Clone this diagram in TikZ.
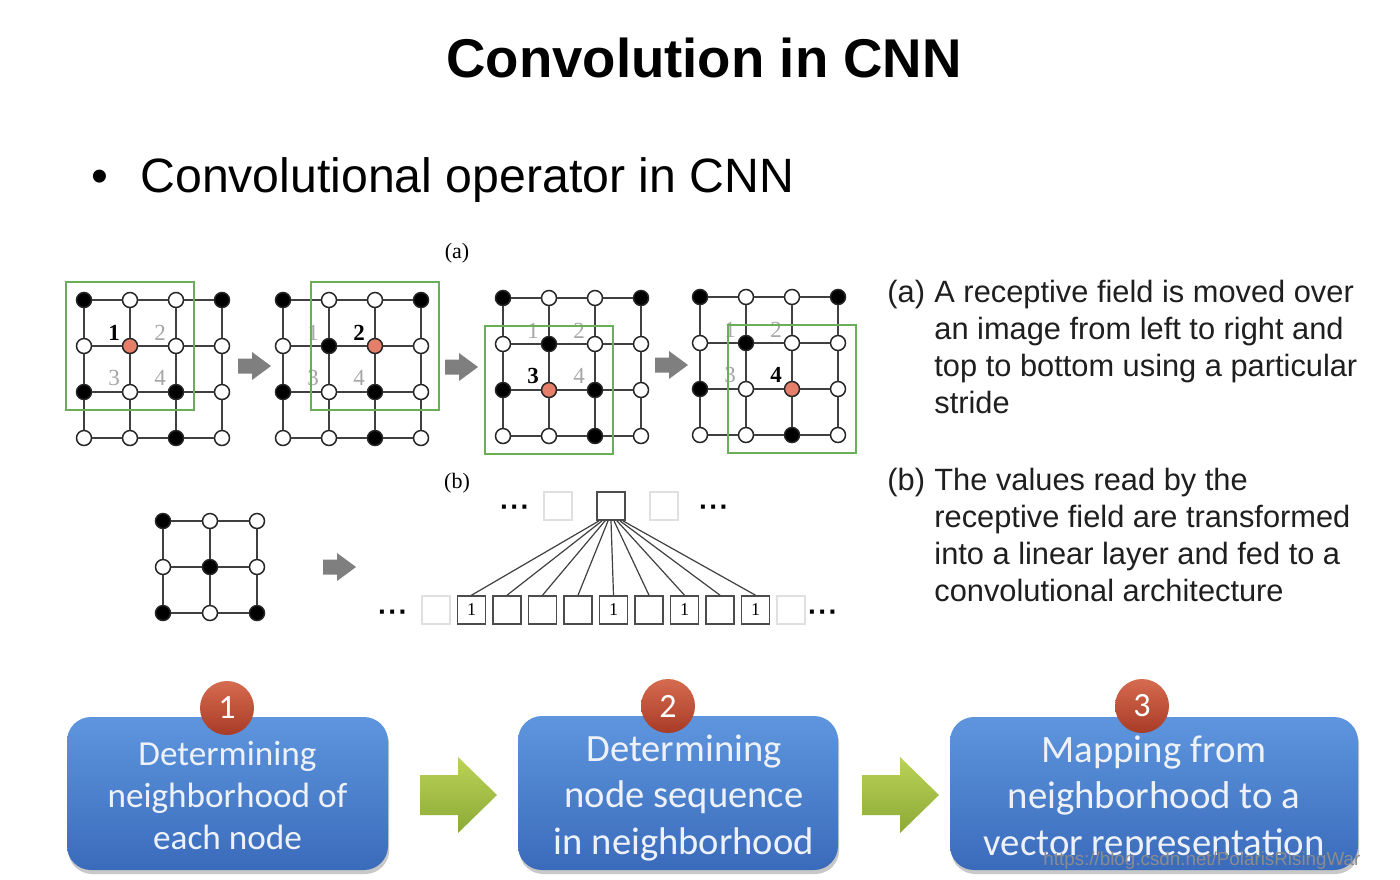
\documentclass[tikz,border=0pt]{standalone}
\usepackage{fontspec}
\setmainfont{Liberation Sans}
\newfontfamily\serifF{Liberation Serif}
\newfontfamily\calF{Carlito}
\usetikzlibrary{calc,shadows}
\definecolor{gridgreen}{HTML}{6AAE5A}
\definecolor{salmon}{HTML}{E57F6A}
\definecolor{boxtop}{HTML}{5E96DE}
\definecolor{boxbot}{HTML}{3A6BBB}
\definecolor{redtop}{HTML}{D56B4F}
\definecolor{redbot}{HTML}{A83B27}
\definecolor{greentop}{HTML}{BCD257}
\definecolor{greenbot}{HTML}{8BAA36}
\definecolor{arrowgray}{HTML}{7F7F7F}
\definecolor{boxtext}{HTML}{EEF2F8}
\tikzset{
  gn/.style={circle, draw=black!85, line width=0.75pt, minimum size=7.5pt, inner sep=0pt},
  wnode/.style={gn, fill=white},
  bnode/.style={gn, fill=black},
  rnode/.style={gn, fill=salmon},
  gl/.style={draw=black!75, line width=0.8pt},
  lblon/.style={font=\serifF\bfseries\fontsize{11.5}{11.5}\selectfont, text=black, inner sep=0pt},
  lbloff/.style={font=\serifF\fontsize{11.5}{11.5}\selectfont, text=black!35, inner sep=0pt},
  gbox/.style={draw=gridgreen, line width=0.8pt, minimum size=64pt, inner sep=0pt},
  sq/.style={draw=black!70, line width=0.8pt, minimum size=14pt, inner sep=0pt, font=\serifF\fontsize{9}{9}\selectfont},
  fsq/.style={sq, draw=black!12},
  dotsn/.style={font=\bfseries\fontsize{14}{14}\selectfont, inner sep=0pt},
  para/.style={anchor=base west, align=left, inner sep=0pt, text=black!88, font=\fontsize{15.4}{18.5}\selectfont},
  sublbl/.style={font=\serifF\fontsize{11}{11}\selectfont, inner sep=0pt},
  bluebox/.style={rounded corners=12pt, top color=boxtop, bottom color=boxbot, inner sep=0pt,
    drop shadow={shadow xshift=0.6pt, shadow yshift=-2pt, opacity=0.3, fill=black!70}},
  boxtxt/.style={text=boxtext, align=center, inner sep=0pt},
  numc/.style={circle, minimum size=27pt, inner sep=0pt, top color=redtop, bottom color=redbot, text=white,
    font=\calF\fontsize{17}{17}\selectfont},
  garrow/.style={fill=arrowgray},
}
\newcommand\convpanel[6]{%
  \begin{scope}[shift={(#2,#3)}]
    \foreach \f [count=\i from 0] in {#4} {%
      \pgfmathtruncatemacro\cc{mod(\i,4)}%
      \pgfmathtruncatemacro\rr{div(\i,4)}%
      \node[\f] (#1-\cc-\rr) at (\cc*46,\rr*46) {};
    }
    \foreach \r in {0,...,3} \foreach \c/\cn in {0/1,1/2,2/3} \draw[gl] (#1-\c-\r) -- (#1-\cn-\r);
    \foreach \c in {0,...,3} \foreach \r/\rn in {0/1,1/2,2/3} \draw[gl] (#1-\c-\r) -- (#1-\c-\rn);
    \foreach \k/\lx/\ly in {1/30/33,2/76/33,3/30/78,4/76/78} {%
      \ifnum\k=#5\relax \node[lblon] (#1-n\k) at (\lx,\ly) {\k};%
      \else \node[lbloff] (#1-n\k) at (\lx,\ly) {\k};\fi
    }
  \end{scope}
  \node[gbox] (#1-box) at (#1-#6) {};
}
\newcommand\grayarrow[2]{%
  \fill[garrow] (#1-16,#2-7.5) -- (#1-2,#2-7.5) -- (#1-2,#2-14) -- (#1+17,#2) -- (#1-2,#2+14) -- (#1-2,#2+7.5) -- (#1-16,#2+7.5) -- cycle;
}
\newcommand\greenarrow[2]{%
  \shade[top color=greentop, bottom color=greenbot] (#1,#2-20) -- (#1+38,#2-20) -- (#1+38,#2-38) -- (#1+77,#2) -- (#1+38,#2+38) -- (#1+38,#2+20) -- (#1,#2+20) -- cycle;
}
\newcommand\threedots{\textperiodcentered\kern0.5pt\textperiodcentered\kern0.5pt\textperiodcentered}
\begin{document}
\begin{tikzpicture}[x=0.5pt, y=-0.5pt]
\useasboundingbox[fill=white] (0,0) rectangle (1400,879);

% title and bullet
\node[anchor=base, inner sep=0pt, font=\bfseries\fontsize{27.3}{27.3}\selectfont] (title) at (704,77) {Convolution in CNN};
\node[anchor=base, inner sep=0pt, font=\fontsize{24}{24}\selectfont] (bullet) at (100,192) {\textbullet};
\node[anchor=base west, inner sep=0pt, font=\fontsize{24.1}{24.1}\selectfont] (sub) at (140,192) {Convolutional operator in CNN};

% (a) panels
\node[sublbl] (la) at (457,253) {(a)};
\convpanel{p1}{84}{300}{bnode,wnode,wnode,bnode, wnode,rnode,wnode,wnode, bnode,wnode,bnode,wnode, wnode,wnode,bnode,wnode}{1}{1-1}
\convpanel{p2}{283}{300}{bnode,wnode,wnode,bnode, wnode,bnode,rnode,wnode, bnode,wnode,bnode,wnode, wnode,wnode,bnode,wnode}{2}{2-1}
\convpanel{p3}{503}{298}{bnode,wnode,wnode,bnode, wnode,bnode,wnode,wnode, bnode,rnode,bnode,wnode, wnode,wnode,bnode,wnode}{3}{1-2}
\convpanel{p4}{700}{297}{bnode,wnode,wnode,bnode, wnode,bnode,wnode,wnode, bnode,wnode,rnode,wnode, wnode,wnode,bnode,wnode}{4}{2-2}
\grayarrow{254}{366}
\grayarrow{461}{367}
\grayarrow{671}{365}

% (b) small grid
\node[sublbl] (lb) at (457,483) {(b)};
\begin{scope}[shift={(163,521)}]
  \foreach \f [count=\i from 0] in {bnode,wnode,wnode, wnode,bnode,wnode, bnode,wnode,bnode} {%
    \pgfmathtruncatemacro\cc{mod(\i,3)}%
    \pgfmathtruncatemacro\rr{div(\i,3)}%
    \node[\f] (g-\cc-\rr) at (\cc*47,\rr*46) {};
  }
  \foreach \r in {0,1,2} \foreach \c/\cn in {0/1,1/2} \draw[gl] (g-\c-\r) -- (g-\cn-\r);
  \foreach \c in {0,1,2} \foreach \r/\rn in {0/1,1/2} \draw[gl] (g-\c-\r) -- (g-\c-\rn);
\end{scope}
\grayarrow{339}{567}

% (b) linear layer
\node[dotsn] (td0) at (515,511) {\threedots};
\node[fsq] (t0) at (558,506) {};
\node[sq] (t1) at (611,506) {};
\node[fsq] (t2) at (664,506) {};
\node[dotsn] (td1) at (714,511) {\threedots};
\node[dotsn] (bd0) at (393,616) {\threedots};
\node[dotsn] (bd1) at (823,616) {\threedots};
\foreach \k/\st/\tx in {0/fsq/,1/sq/1,2/sq/,3/sq/,4/sq/,5/sq/1,6/sq/,7/sq/1,8/sq/,9/sq/1,10/fsq/} {%
  \node[\st] (b\k) at (436+35.5*\k,610) {\tx};
}
\foreach \k in {1,...,9} \draw[black!75, line width=0.6pt] ($(t1.south west)!{0.1+(\k-1)*0.1}!(t1.south east)$) -- (b\k.north);

% explanations (base anchor of a multi-line node = last line)
\node[para] (ta) at (887,302) {(a)};
\node[para] (pa) at (934,413) {A receptive field is moved over\\an image from left to right and\\top to bottom using a particular\\stride};
\node[para] (tb) at (887,490) {(b)};
\node[para] (pb) at (934,601) {The values read by the\\receptive field are transformed\\into a linear layer and fed to a\\convolutional architecture};

% bottom process
\node[bluebox, minimum width=160.5pt, minimum height=76.5pt] (s1) at (227.5,793.5) {};
\node[bluebox, minimum width=160pt, minimum height=77pt] (s2) at (678,793) {};
\node[bluebox, minimum width=204pt, minimum height=76.5pt] (s3) at (1154,793.5) {};
\node[boxtxt, font=\calF\fontsize{17.6}{21}\selectfont] (s1t) at ($(s1.center)+(0,2)$) {Determining\\neighborhood of\\each node};
\node[boxtxt, font=\calF\fontsize{19.3}{23.2}\selectfont] (s2t) at ($(s2.center)+(6,5)$) {Determining\\node sequence\\in neighborhood};
\node[boxtxt, font=\calF\fontsize{19.4}{23.2}\selectfont] (s3t) at ($(s3.center)+(0,5)$) {Mapping from\\neighborhood to a\\vector representation};
\node[numc] (c1) at (227,708) {1};
\node[numc] (c2) at (668,706) {2};
\node[numc] (c3) at (1142,706) {3};
\greenarrow{420}{795}
\greenarrow{862}{795}

% watermark
\begin{scope}
  \clip (0,0) rectangle (1360,879);
  \node[anchor=base west, inner sep=0pt, text=black!45, font=\fontsize{9.4}{9.4}\selectfont] (wm) at (1043,865) {https://blog.csdn.net/PolarisRisingWar};
\end{scope}
\end{tikzpicture}
\end{document}
